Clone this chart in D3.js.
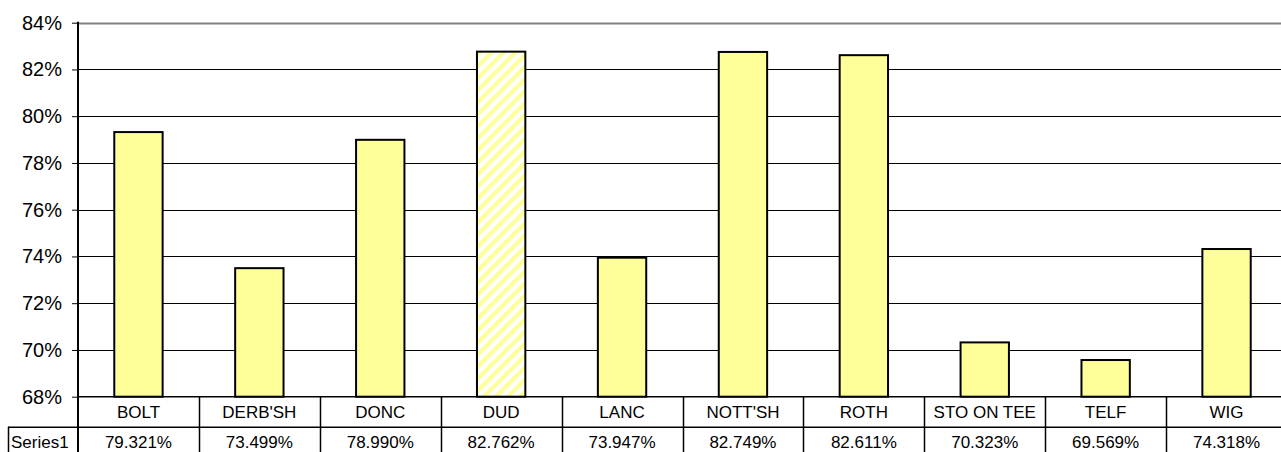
<!DOCTYPE html>
<html>
<head>
<meta charset="utf-8">
<script src="https://cdn.jsdelivr.net/npm/d3@7"></script>
<style>
  body { margin: 0; background: #fff; }
  svg { display: block; font-family: "Liberation Sans", Arial, sans-serif; }
</style>
</head>
<body>
<div id="chart"></div>
<script>
// data
const categories = ["BOLT", "DERB'SH", "DONC", "DUD", "LANC", "NOTT'SH", "ROTH", "STO ON TEE", "TELF", "WIG"];
const values = [0.79321, 0.73499, 0.78990, 0.82762, 0.73947, 0.82749, 0.82611, 0.70323, 0.69569, 0.74318];
const valueLabels = ["79.321%", "73.499%", "78.990%", "82.762%", "73.947%", "82.749%", "82.611%", "70.323%", "69.569%", "74.318%"];
const yTicks = [0.68, 0.70, 0.72, 0.74, 0.76, 0.78, 0.80, 0.82, 0.84];
const highlighted = "DUD";
const seriesName = "Series1";

const W = 1281, H = 452;
const plotLeft = 78, plotTop = 22.7, plotBottom = 396.7;
const colW = 120.9;
const rowH = 30;

const svg = d3.select("#chart").append("svg")
    .attr("width", W)
    .attr("height", H);

const defs = svg.append("defs");
const pat = defs.append("pattern")
    .attr("id", "hatch")
    .attr("patternUnits", "userSpaceOnUse")
    .attr("width", 8.5)
    .attr("height", 8.5)
    .attr("patternTransform", "rotate(45)");
pat.append("rect").attr("width", 8.5).attr("height", 8.5).attr("fill", "#fff");
pat.append("rect").attr("width", 4.2).attr("height", 8.5).attr("fill", "#ffff99");

const x = d3.scaleBand()
    .domain(categories)
    .range([plotLeft, plotLeft + colW * categories.length])
    .paddingInner(0.6)
    .paddingOuter(0.3);

const cols = d3.scaleBand()
    .domain(categories)
    .range([plotLeft, plotLeft + colW * categories.length]);

const y = d3.scaleLinear()
    .domain([0.68, 0.84])
    .range([plotBottom, plotTop]);

// gridlines
svg.append("g")
  .selectAll("line")
  .data(yTicks.filter(t => t > 0.68))
  .enter().append("line")
    .attr("x1", plotLeft).attr("x2", W)
    .attr("y1", d => Math.round(y(d)) + 0.5)
    .attr("y2", d => Math.round(y(d)) + 0.5)
    .attr("stroke", d => d === 0.84 ? "#808080" : "#000")
    .attr("stroke-width", d => d === 0.84 ? 2 : 1);

// bars
svg.append("g")
  .selectAll("rect")
  .data(categories)
  .enter().append("rect")
    .attr("x", d => x(d))
    .attr("width", x.bandwidth())
    .attr("y", (d, i) => y(values[i]))
    .attr("height", (d, i) => y(0.68) - y(values[i]))
    .attr("fill", d => d === highlighted ? "url(#hatch)" : "#ffff99")
    .attr("stroke", "#000")
    .attr("stroke-width", 2);

// y axis
const yAxis = svg.append("g")
    .attr("transform", "translate(" + plotLeft + ",0)")
    .call(d3.axisLeft(y).tickValues(yTicks).tickFormat(d3.format(".0%")).tickSize(6).tickSizeOuter(0));
yAxis.select(".domain").remove();
yAxis.selectAll(".tick line").attr("stroke", "#000");
yAxis.selectAll(".tick text")
    .attr("x", -16)
    .attr("font-size", 20)
    .attr("font-family", "Liberation Sans, Arial, sans-serif")
    .attr("fill", "#000");

svg.append("line")
    .attr("x1", plotLeft).attr("x2", plotLeft)
    .attr("y1", plotTop - 1).attr("y2", H)
    .attr("stroke", "#000").attr("stroke-width", 2);

// data table
const table = svg.append("g");
table.append("line")
    .attr("x1", plotLeft).attr("x2", W)
    .attr("y1", plotBottom).attr("y2", plotBottom)
    .attr("stroke", "#000").attr("stroke-width", 1.5);
table.append("line")
    .attr("x1", 8).attr("x2", W)
    .attr("y1", plotBottom + rowH + 0.5).attr("y2", plotBottom + rowH + 0.5)
    .attr("stroke", "#000").attr("stroke-width", 1.5);
table.append("line")
    .attr("x1", 8.5).attr("x2", 8.5)
    .attr("y1", plotBottom + rowH).attr("y2", H)
    .attr("stroke", "#000").attr("stroke-width", 1.5);

table.selectAll(".sep")
  .data(categories.slice(1))
  .enter().append("line")
    .attr("class", "sep")
    .attr("x1", d => Math.round(cols(d)) + 0.5)
    .attr("x2", d => Math.round(cols(d)) + 0.5)
    .attr("y1", plotBottom).attr("y2", H)
    .attr("stroke", "#000").attr("stroke-width", 1.5);

table.selectAll(".cat")
  .data(categories)
  .enter().append("text")
    .attr("class", "cat")
    .attr("x", d => cols(d) + cols.bandwidth() / 2)
    .attr("y", plotBottom + rowH / 2)
    .attr("dy", "0.35em")
    .attr("text-anchor", "middle")
    .attr("font-size", 17)
    .text(d => d);

table.selectAll(".val")
  .data(categories)
  .enter().append("text")
    .attr("class", "val")
    .attr("x", d => cols(d) + cols.bandwidth() / 2)
    .attr("y", plotBottom + rowH + 15)
    .attr("dy", "0.35em")
    .attr("text-anchor", "middle")
    .attr("font-size", 17)
    .text((d, i) => valueLabels[i]);

table.append("text")
    .attr("x", 11)
    .attr("y", plotBottom + rowH + 15)
    .attr("dy", "0.35em")
    .attr("font-size", 17)
    .text(seriesName);
</script>
</body>
</html>
